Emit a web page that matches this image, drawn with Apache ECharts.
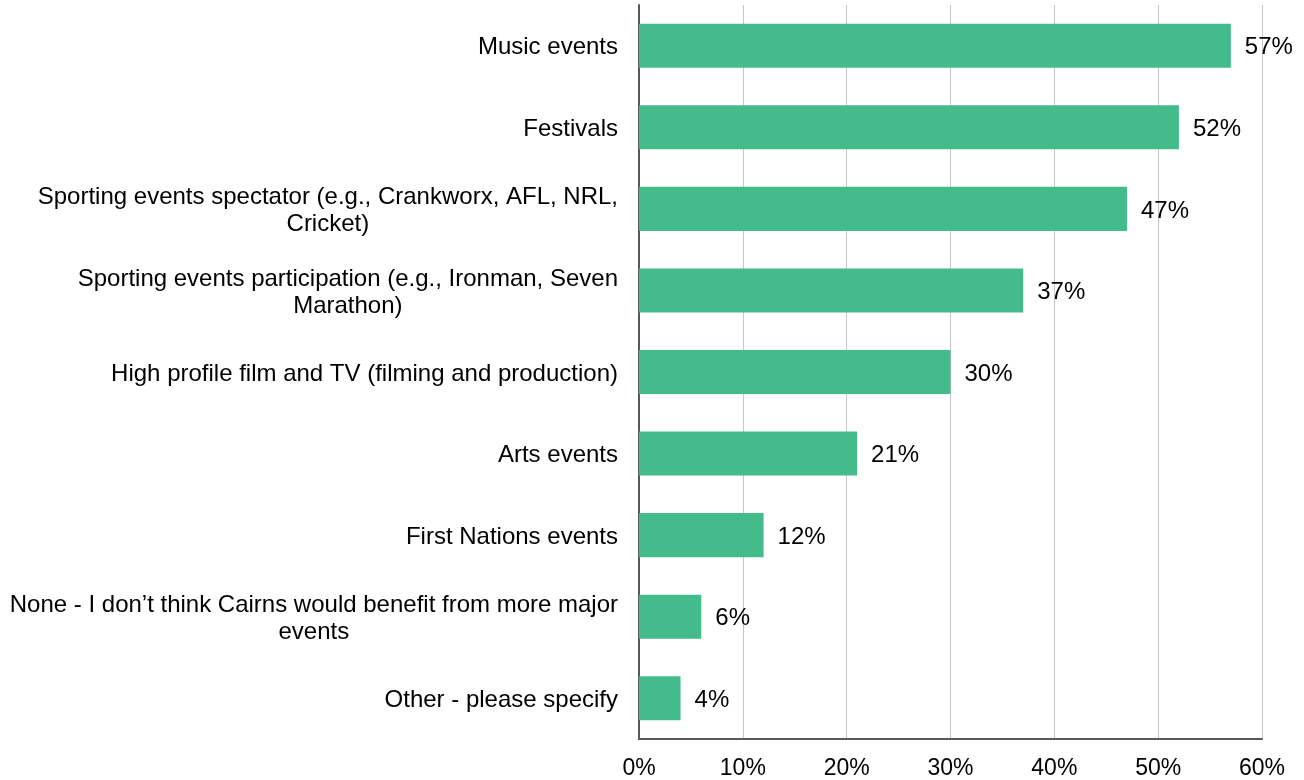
<!DOCTYPE html>
<html>
<head>
<meta charset="utf-8">
<script src="https://cdn.jsdelivr.net/npm/echarts@6/dist/echarts.min.js"></script>
<style>
  html, body { margin: 0; padding: 0; background: #fff; }
  #main { width: 1304px; height: 780px; }
</style>
</head>
<body>
<div id="main"></div>
<script>
// categories, top to bottom
var categories = [
  'Music events',
  'Festivals',
  'Sporting events spectator (e.g., Crankworx, AFL, NRL,\nCricket)',
  'Sporting events participation (e.g., Ironman, Seven\nMarathon)',
  'High profile film and TV (filming and production)',
  'Arts events',
  'First Nations events',
  'None - I don\u2019t think Cairns would benefit from more major\nevents',
  'Other - please specify'
];
var values = [57, 52, 47, 37, 30, 21, 12, 6, 4];
var xTicks = [0, 10, 20, 30, 40, 50, 60];

var myChart = echarts.init(document.getElementById('main'));

var option = {
  animation: false,
  textStyle: { fontFamily: 'Liberation Sans, Arial, sans-serif' },
  grid: { left: 639, right: 42, top: 5, bottom: 40, containLabel: false },
  xAxis: {
    type: 'value',
    min: xTicks[0],
    max: xTicks[xTicks.length - 1],
    interval: 10,
    axisLine: { show: true, lineStyle: { color: '#595959', width: 2 } },
    axisTick: { show: false },
    splitLine: { show: true, lineStyle: { color: '#c6c6c6', width: 1 } },
    axisLabel: {
      formatter: '{value}%',
      color: '#000',
      fontSize: 23,
      margin: 18
    }
  },
  yAxis: {
    type: 'category',
    inverse: true,
    data: categories,
    axisLine: { show: true, lineStyle: { color: '#595959', width: 2 } },
    axisTick: { show: false },
    axisLabel: {
      color: '#000',
      fontSize: 24,
      margin: 21,
      align: 'right',
      lineHeight: 27,
      padding: [4, 0, 0, 0],
      formatter: function (v) {
        return v.split('\n').map(function (s) { return '{c|' + s + '}'; }).join('\n');
      },
      rich: {
        c: { align: 'center', fontSize: 24, color: '#000', lineHeight: 27, fontFamily: 'Liberation Sans, Arial, sans-serif' }
      }
    }
  },
  series: [{
    type: 'bar',
    data: values,
    barCategoryGap: '46%',
    itemStyle: { color: '#43bb8b' },
    label: {
      show: true,
      position: 'right',
      distance: 14,
      offset: [0, 2],
      formatter: '{c}%',
      color: '#000',
      fontSize: 24
    }
  }]
};

myChart.setOption(option);
</script>
</body>
</html>
